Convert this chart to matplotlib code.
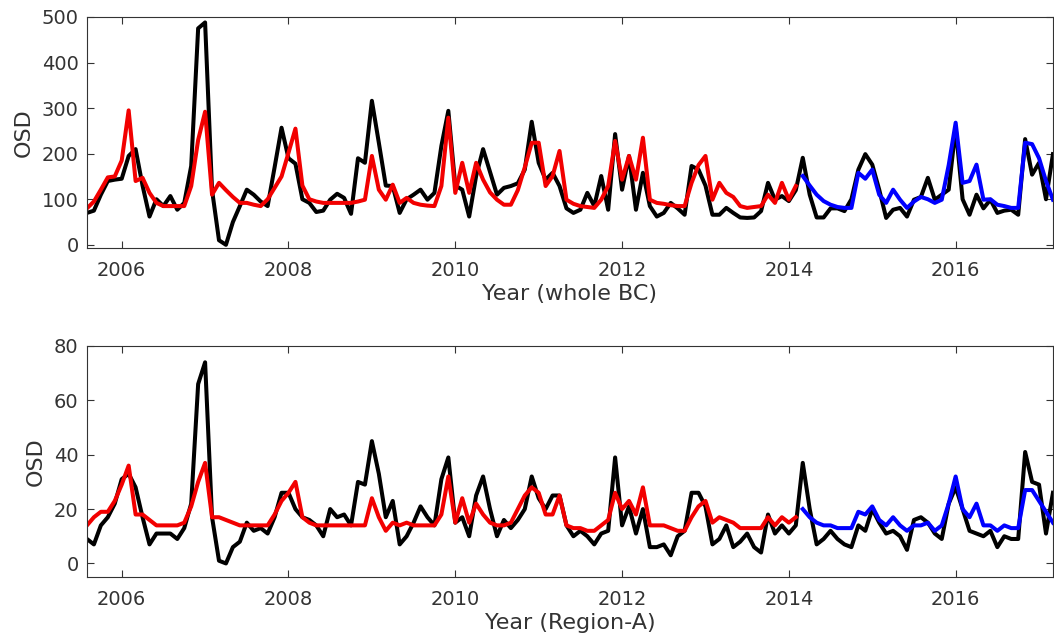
import numpy as np
import matplotlib.pyplot as plt

# Monthly series, Aug 2005 .. Mar 2017 (140 months)
start_year = 2005 + 7 / 12
n_fit = 103  # months covered by the fitted (red) curve

# whole BC
obs_bc = [70, 75, 110, 140, 143, 145, 195, 210, 130, 62,
          100, 85, 107, 77, 92, 173, 475, 488, 120, 10,
          0, 50, 85, 121, 110, 95, 85, 170, 257, 190,
          178, 100, 92, 72, 75, 99, 112, 103, 68, 190,
          180, 316, 224, 130, 129, 70, 100, 110, 121, 99,
          114, 217, 294, 130, 121, 62, 151, 210, 160, 110,
          125, 129, 135, 165, 270, 180, 143, 158, 129, 80,
          70, 77, 114, 85, 151, 77, 243, 121, 195, 77,
          158, 85, 62, 70, 92, 80, 66, 173, 165, 130,
          66, 66, 81, 70, 60, 59, 60, 74, 136, 99,
          107, 96, 120, 191, 110, 60, 60, 80, 80, 74,
          100, 165, 199, 176, 121, 59, 77, 81, 62, 99,
          105, 147, 99, 110, 121, 257, 100, 66, 110, 80,
          99, 70, 75, 77, 66, 232, 154, 180, 100, 199]
fit_bc = [80, 95, 121, 148, 150, 185, 295, 140, 147, 114,
          92, 85, 85, 85, 85, 129, 230, 292, 110, 136,
          120, 105, 92, 92, 88, 85, 100, 125, 150, 202,
          255, 130, 100, 95, 92, 92, 92, 92, 92, 95,
          99, 195, 121, 99, 132, 92, 103, 92, 88, 86,
          85, 129, 279, 114, 180, 114, 180, 143, 115, 99,
          88, 88, 120, 170, 224, 224, 129, 151, 206, 99,
          90, 85, 83, 81, 99, 129, 228, 143, 195, 143,
          235, 99, 92, 90, 87, 85, 85, 136, 175, 195,
          99, 136, 114, 105, 85, 81, 83, 85, 110, 92,
          136, 99, 129]
fcst_bc = [151, 130, 110, 96, 88, 83, 81, 81, 158, 145,
           165, 110, 92, 121, 99, 81, 95, 105, 100, 92,
           99, 175, 268, 136, 140, 176, 99, 100, 88, 85,
           81, 81, 224, 221, 190, 140, 99]

# Region-A
obs_a = [9, 7, 14, 17, 22, 31, 33, 28, 17, 7,
         11, 11, 11, 9, 13, 22, 66, 74, 17, 1,
         0, 6, 8, 15, 12, 13, 11, 17, 26, 26,
         20, 17, 16, 14, 10, 20, 17, 18, 14, 30,
         29, 45, 33, 17, 23, 7, 10, 15, 21, 17,
         14, 31, 39, 15, 17, 10, 25, 32, 20, 10,
         16, 13, 16, 20, 32, 24, 20, 25, 25, 14,
         10, 12, 10, 7, 11, 12, 39, 14, 21, 11,
         20, 6, 6, 7, 3, 10, 12, 26, 26, 21,
         7, 9, 14, 6, 8, 11, 6, 4, 18, 11,
         14, 11, 14, 37, 20, 7, 9, 12, 9, 7,
         6, 14, 12, 20, 15, 11, 12, 10, 5, 16,
         17, 15, 11, 9, 22, 28, 20, 12, 11, 10,
         12, 6, 10, 9, 9, 41, 30, 29, 11, 26]
fit_a = [14, 17, 19, 19, 23, 29, 36, 18, 18, 16,
         14, 14, 14, 14, 15, 21, 30, 37, 17, 17,
         16, 15, 14, 14, 14, 14, 14, 18, 23, 26,
         30, 17, 15, 14, 14, 14, 14, 14, 14, 14,
         14, 24, 17, 12, 15, 14, 15, 14, 14, 14,
         14, 18, 32, 15, 24, 15, 22, 18, 15, 14,
         14, 15, 20, 25, 28, 26, 18, 18, 25, 14,
         13, 13, 12, 12, 14, 16, 26, 20, 23, 18,
         28, 14, 14, 14, 13, 12, 12, 17, 21, 23,
         15, 17, 16, 15, 13, 13, 13, 13, 17, 14,
         17, 15, 17]
fcst_a = [20, 17, 15, 14, 14, 13, 13, 13, 19, 18,
          21, 16, 14, 17, 14, 12, 14, 14, 15, 12,
          14, 22, 32, 20, 17, 22, 14, 14, 12, 14,
          13, 13, 27, 27, 23, 19, 15]

xticks = [2006, 2008, 2010, 2012, 2014, 2016]
xlabels = ['Year (whole BC)', 'Year (Region-A)']

t = start_year + np.arange(len(obs_bc)) / 12
axis_color = '#333333'


def draw_panel(ax, obs, fit, fcst, ylim, yticks, xlabel):
    ax.plot(t, obs, color='k', lw=2.9)
    ax.plot(t[:n_fit], fit, color=(0.95, 0, 0), lw=2.9)
    ax.plot(t[n_fit:], fcst, color=(0, 0, 1), lw=2.9)
    ax.set_xlim(t[0], t[-1])
    ax.set_ylim(*ylim)
    ax.set_xticks(xticks)
    ax.set_yticks(yticks)
    ax.tick_params(direction='in', top=True, right=True, length=5,
                   width=0.8, colors=axis_color, labelsize=14)
    ax.tick_params(axis='x', pad=9)
    ax.tick_params(axis='y', pad=6)
    for s in ax.spines.values():
        s.set_color(axis_color)
        s.set_linewidth(0.8)
    ax.set_xlabel(xlabel, fontsize=16, color=axis_color, labelpad=3)
    ax.set_ylabel('OSD', fontsize=16, color=axis_color, labelpad=6)


fig = plt.figure(figsize=(10.54, 6.43), dpi=100)
ax1 = fig.add_axes([0.0825, 0.6143, 0.9165, 0.3593])
ax2 = fig.add_axes([0.0825, 0.1026, 0.9165, 0.3593])

draw_panel(ax1, obs_bc, fit_bc, fcst_bc, (-7, 500), range(0, 501, 100), xlabels[0])
draw_panel(ax2, obs_a, fit_a, fcst_a, (-5, 80), range(0, 81, 20), xlabels[1])

fig.savefig('out.png', dpi=100)
